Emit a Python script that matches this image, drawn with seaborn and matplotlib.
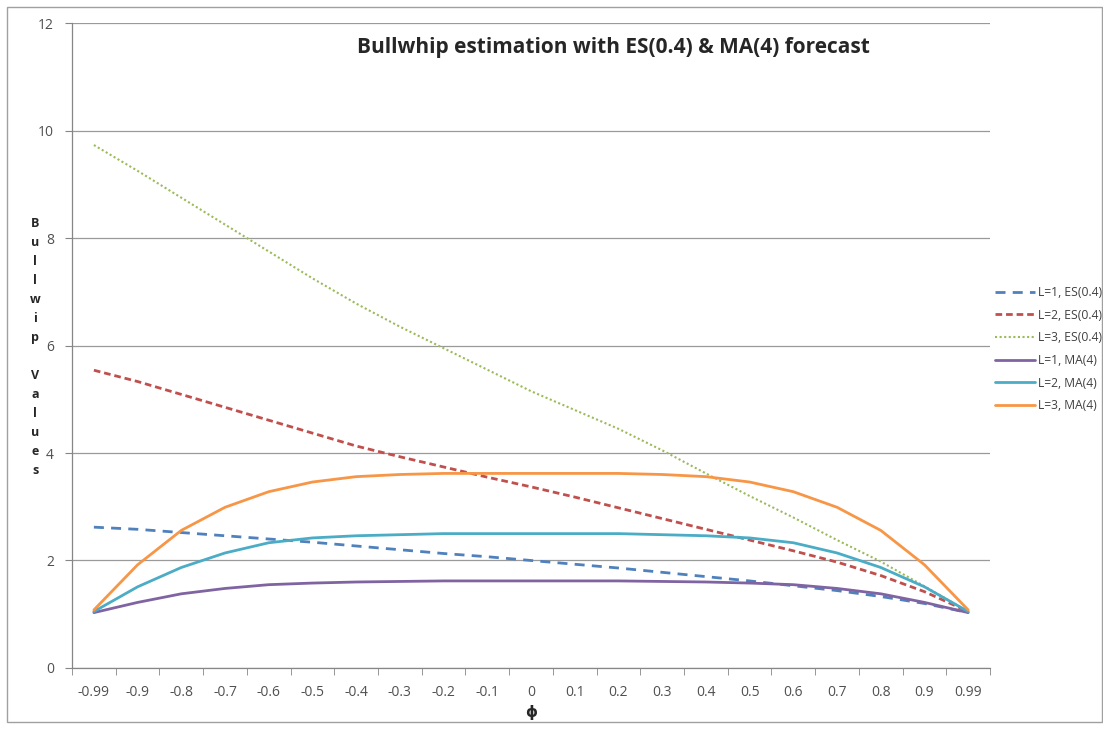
import numpy as np
import pandas as pd
import matplotlib
matplotlib.use('Agg')
import matplotlib.pyplot as plt
import seaborn as sns
from matplotlib.patches import Rectangle

# Data
phi_labels = ['-0.99', '-0.9', '-0.8', '-0.7', '-0.6', '-0.5', '-0.4', '-0.3', '-0.2', '-0.1', '0',
              '0.1', '0.2', '0.3', '0.4', '0.5', '0.6', '0.7', '0.8', '0.9', '0.99']

es_L1 = [2.62, 2.58, 2.52, 2.46, 2.40, 2.34, 2.27, 2.20, 2.13, 2.07, 2.00,
         1.93, 1.86, 1.78, 1.70, 1.62, 1.53, 1.44, 1.33, 1.20, 1.03]
es_L2 = [5.54, 5.33, 5.09, 4.85, 4.61, 4.37, 4.13, 3.93, 3.74, 3.55, 3.37,
         3.18, 2.98, 2.78, 2.58, 2.38, 2.18, 1.97, 1.72, 1.42, 1.05]
es_L3 = [9.73, 9.25, 8.75, 8.25, 7.75, 7.25, 6.78, 6.35, 5.95, 5.55, 5.15,
         4.80, 4.45, 4.05, 3.62, 3.20, 2.80, 2.38, 1.98, 1.52, 1.05]
ma_L1 = [1.03, 1.22, 1.38, 1.48, 1.55, 1.58, 1.60, 1.61, 1.62, 1.62, 1.62,
         1.62, 1.62, 1.61, 1.60, 1.58, 1.55, 1.48, 1.38, 1.22, 1.03]
ma_L2 = [1.05, 1.51, 1.87, 2.14, 2.33, 2.42, 2.46, 2.48, 2.50, 2.50, 2.50,
         2.50, 2.50, 2.48, 2.46, 2.42, 2.33, 2.14, 1.87, 1.51, 1.05]
ma_L3 = [1.08, 1.92, 2.56, 2.99, 3.28, 3.46, 3.56, 3.60, 3.62, 3.62, 3.62,
         3.62, 3.62, 3.60, 3.56, 3.46, 3.28, 2.99, 2.56, 1.92, 1.08]

series_names = ['L=1, ES(0.4)', 'L=2, ES(0.4)', 'L=3, ES(0.4)',
                'L=1, MA(4)', 'L=2, MA(4)', 'L=3, MA(4)']
series_values = [es_L1, es_L2, es_L3, ma_L1, ma_L2, ma_L3]
colors = ['#4F81BD', '#C0504D', '#9BBB59', '#8064A2', '#4BACC6', '#F79646']
styles = [(0, (3.6, 2.6)), (0, (2.4, 1.4)), (0, (1, 1.2)), '-', '-', '-']
widths = [2.0, 2.0, 1.5, 2.0, 2.0, 2.0]

sns.set_style('white')
plt.rcParams['font.family'] = ['Open Sans', 'DejaVu Sans']

fig = plt.figure(figsize=(11.03, 7.29), dpi=100)
ax = fig.add_axes([0.0653, 0.0837, 0.8323, 0.8847])

x = np.arange(len(phi_labels))
for name, vals, c, ls, lw in zip(series_names, series_values, colors, styles, widths):
    df = pd.DataFrame({'phi': x, 'value': vals})
    sns.lineplot(data=df, x='phi', y='value', ax=ax, color=c, linestyle=ls,
                 linewidth=lw, label=name)

ax.set_xlim(-0.5, len(phi_labels) - 0.5)
ax.set_ylim(0, 12)
ax.set_xticks(x)
ax.set_xticklabels(phi_labels)
ax.set_xticks(np.arange(-0.5, len(phi_labels)), minor=True)
ax.set_yticks(range(0, 13, 2))
ax.tick_params(axis='x', which='major', length=0, pad=12, labelsize=10, labelcolor='#505050')
ax.tick_params(axis='x', which='minor', length=5, color='#868686', direction='out', bottom=True)
ax.tick_params(axis='y', length=5, color='#868686', direction='out', left=True,
               labelsize=10, labelcolor='#505050', pad=8)
ax.grid(axis='y', color='#9a9a9a', linewidth=0.9)
ax.set_axisbelow(True)
for side in ['top', 'right']:
    ax.spines[side].set_visible(False)
for side in ['left', 'bottom']:
    ax.spines[side].set_color('#868686')
    ax.spines[side].set_linewidth(0.9)

ax.set_xlabel('ϕ', fontsize=11, fontweight='bold', family='DejaVu Sans', labelpad=4)
ax.set_ylabel('')
ylab = 'B\nu\nl\nl\nw\ni\np\n\nV\na\nl\nu\ne\ns'
fig.text(0.032, 0.524, ylab, ha='center', va='center', fontsize=9,
         fontweight='bold', linespacing=1.6)

fig.text(0.556, 0.935, 'Bullwhip estimation with ES(0.4) & MA(4) forecast',
         ha='center', va='center', fontsize=15, fontweight='bold')

ax.legend(loc='center left', bbox_to_anchor=(0.892, 0.521), bbox_transform=fig.transFigure,
          frameon=False, fontsize=8.7, handlelength=3.3, handletextpad=0.3,
          labelspacing=0.8, labelcolor='#404040')

fig.patches.append(Rectangle((0.006, 0.01), 0.993, 0.98, transform=fig.transFigure,
                             fill=False, edgecolor='#a0a0a0', linewidth=1.0))

fig.savefig('out.png', dpi=100)
